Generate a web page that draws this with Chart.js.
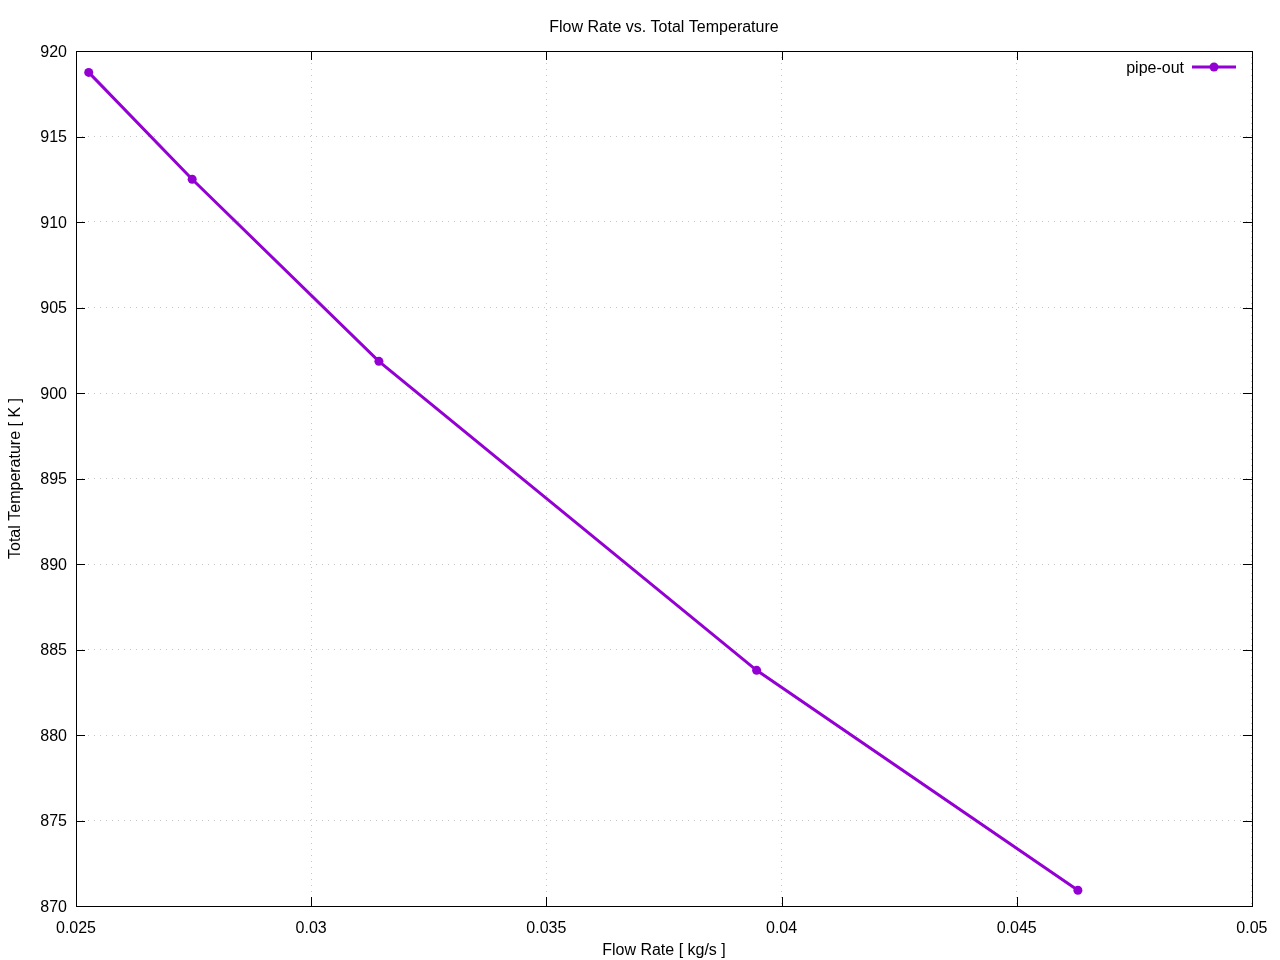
<!DOCTYPE html>
<html>
<head>
<meta charset="utf-8">
<script src="https://cdn.jsdelivr.net/npm/chart.js@4"></script>
<style>
  html, body { margin: 0; padding: 0; background: #fff; }
  #wrap { width: 1280px; height: 960px; }
</style>
</head>
<body>
<div id="wrap"><canvas id="chart" width="1280" height="960"></canvas></div>
<script>
// data
const flowRate = [0.02527, 0.02747, 0.03144, 0.03947, 0.04630];
const totalTemp = [918.75, 912.50, 901.85, 883.78, 870.92];
const xTicks = [0.025, 0.03, 0.035, 0.04, 0.045, 0.05];
const yTicks = [870, 875, 880, 885, 890, 895, 900, 905, 910, 915, 920];

const seriesLabel = "pipe-out";
const chartTitle = "Flow Rate vs. Total Temperature";
const xTitle = "Flow Rate [ kg/s ]";
const yTitle = "Total Temperature [ K ]";

const purple = "#9400d3";
const fontFamily = "'Liberation Sans', Arial, sans-serif";
const fontSize = 16;

// frame, inward ticks (mirrored), title and key, gnuplot style
const gnuplotFrame = {
    id: "gnuplotFrame",
    afterDraw(chart) {
        const ctx = chart.ctx;
        const a = chart.chartArea;
        const xs = chart.scales.x, ys = chart.scales.y;
        const tl = 9;

        ctx.save();
        ctx.strokeStyle = "#000";
        ctx.lineWidth = 1;
        ctx.beginPath();
        xTicks.forEach(v => {
            const px = Math.round(xs.getPixelForValue(v)) + 0.5;
            ctx.moveTo(px, a.bottom); ctx.lineTo(px, a.bottom - tl);
            ctx.moveTo(px, a.top); ctx.lineTo(px, a.top + tl);
        });
        yTicks.forEach(v => {
            const py = Math.round(ys.getPixelForValue(v)) + 0.5;
            ctx.moveTo(a.left, py); ctx.lineTo(a.left + tl, py);
            ctx.moveTo(a.right, py); ctx.lineTo(a.right - tl, py);
        });
        ctx.stroke();
        ctx.strokeRect(Math.round(a.left) + 0.5, Math.round(a.top) + 0.5,
            Math.round(a.right - a.left), Math.round(a.bottom - a.top));

        ctx.fillStyle = "#000";
        ctx.font = fontSize + "px " + fontFamily;
        ctx.textBaseline = "middle";

        // title
        ctx.textAlign = "center";
        ctx.fillText(chartTitle, (a.left + a.right) / 2, 27.5);

        // axis titles
        ctx.fillText(xTitle, (a.left + a.right) / 2, 950.5);
        ctx.save();
        ctx.translate(16, (a.top + a.bottom) / 2);
        ctx.rotate(-Math.PI / 2);
        ctx.fillText(yTitle, 0, 0);
        ctx.restore();

        // key
        const ky = 67;
        ctx.textAlign = "right";
        ctx.fillText(seriesLabel, 1184, ky + 1.5);
        ctx.strokeStyle = purple;
        ctx.lineWidth = 3;
        ctx.beginPath();
        ctx.moveTo(1192, ky); ctx.lineTo(1236, ky);
        ctx.stroke();
        ctx.fillStyle = purple;
        ctx.beginPath();
        ctx.arc(1214, ky, 4.5, 0, Math.PI * 2);
        ctx.fill();
        ctx.restore();
    }
};

const gridStyle = {
    color: "rgba(150,150,150,0.55)",
    lineWidth: 1,
    drawTicks: false
};

new Chart(document.getElementById("chart"), {
    type: "line",
    data: {
        datasets: [{
            label: seriesLabel,
            data: flowRate.map((x, i) => ({ x: x, y: totalTemp[i] })),
            borderColor: purple,
            backgroundColor: purple,
            borderWidth: 3,
            pointRadius: 4.5,
            pointBorderWidth: 0,
            tension: 0,
            fill: false
        }]
    },
    options: {
        responsive: false,
        animation: false,
        layout: { padding: { top: 51, right: 27, left: 0, bottom: 0 } },
        plugins: {
            legend: { display: false },
            title: { display: false },
            tooltip: { enabled: false }
        },
        scales: {
            x: {
                type: "linear",
                min: 0.025,
                max: 0.05,
                afterFit: s => { s.height = 54; },
                afterBuildTicks: s => { s.ticks = xTicks.map(v => ({ value: v })); },
                grid: gridStyle,
                border: { display: false, dash: [1, 5] },
                ticks: {
                    padding: 12.5,
                    color: "#000",
                    font: { family: fontFamily, size: fontSize },
                    maxRotation: 0,
                    callback: v => String(+v.toFixed(3))
                }
            },
            y: {
                type: "linear",
                min: 870,
                max: 920,
                afterFit: s => { s.width = 76; },
                afterBuildTicks: s => { s.ticks = yTicks.map(v => ({ value: v })); },
                grid: gridStyle,
                border: { display: false, dash: [1, 5] },
                ticks: {
                    padding: 9,
                    labelOffset: 1.5,
                    color: "#000",
                    font: { family: fontFamily, size: fontSize },
                    callback: v => String(v)
                }
            }
        }
    },
    plugins: [gnuplotFrame]
});
</script>
</body>
</html>
